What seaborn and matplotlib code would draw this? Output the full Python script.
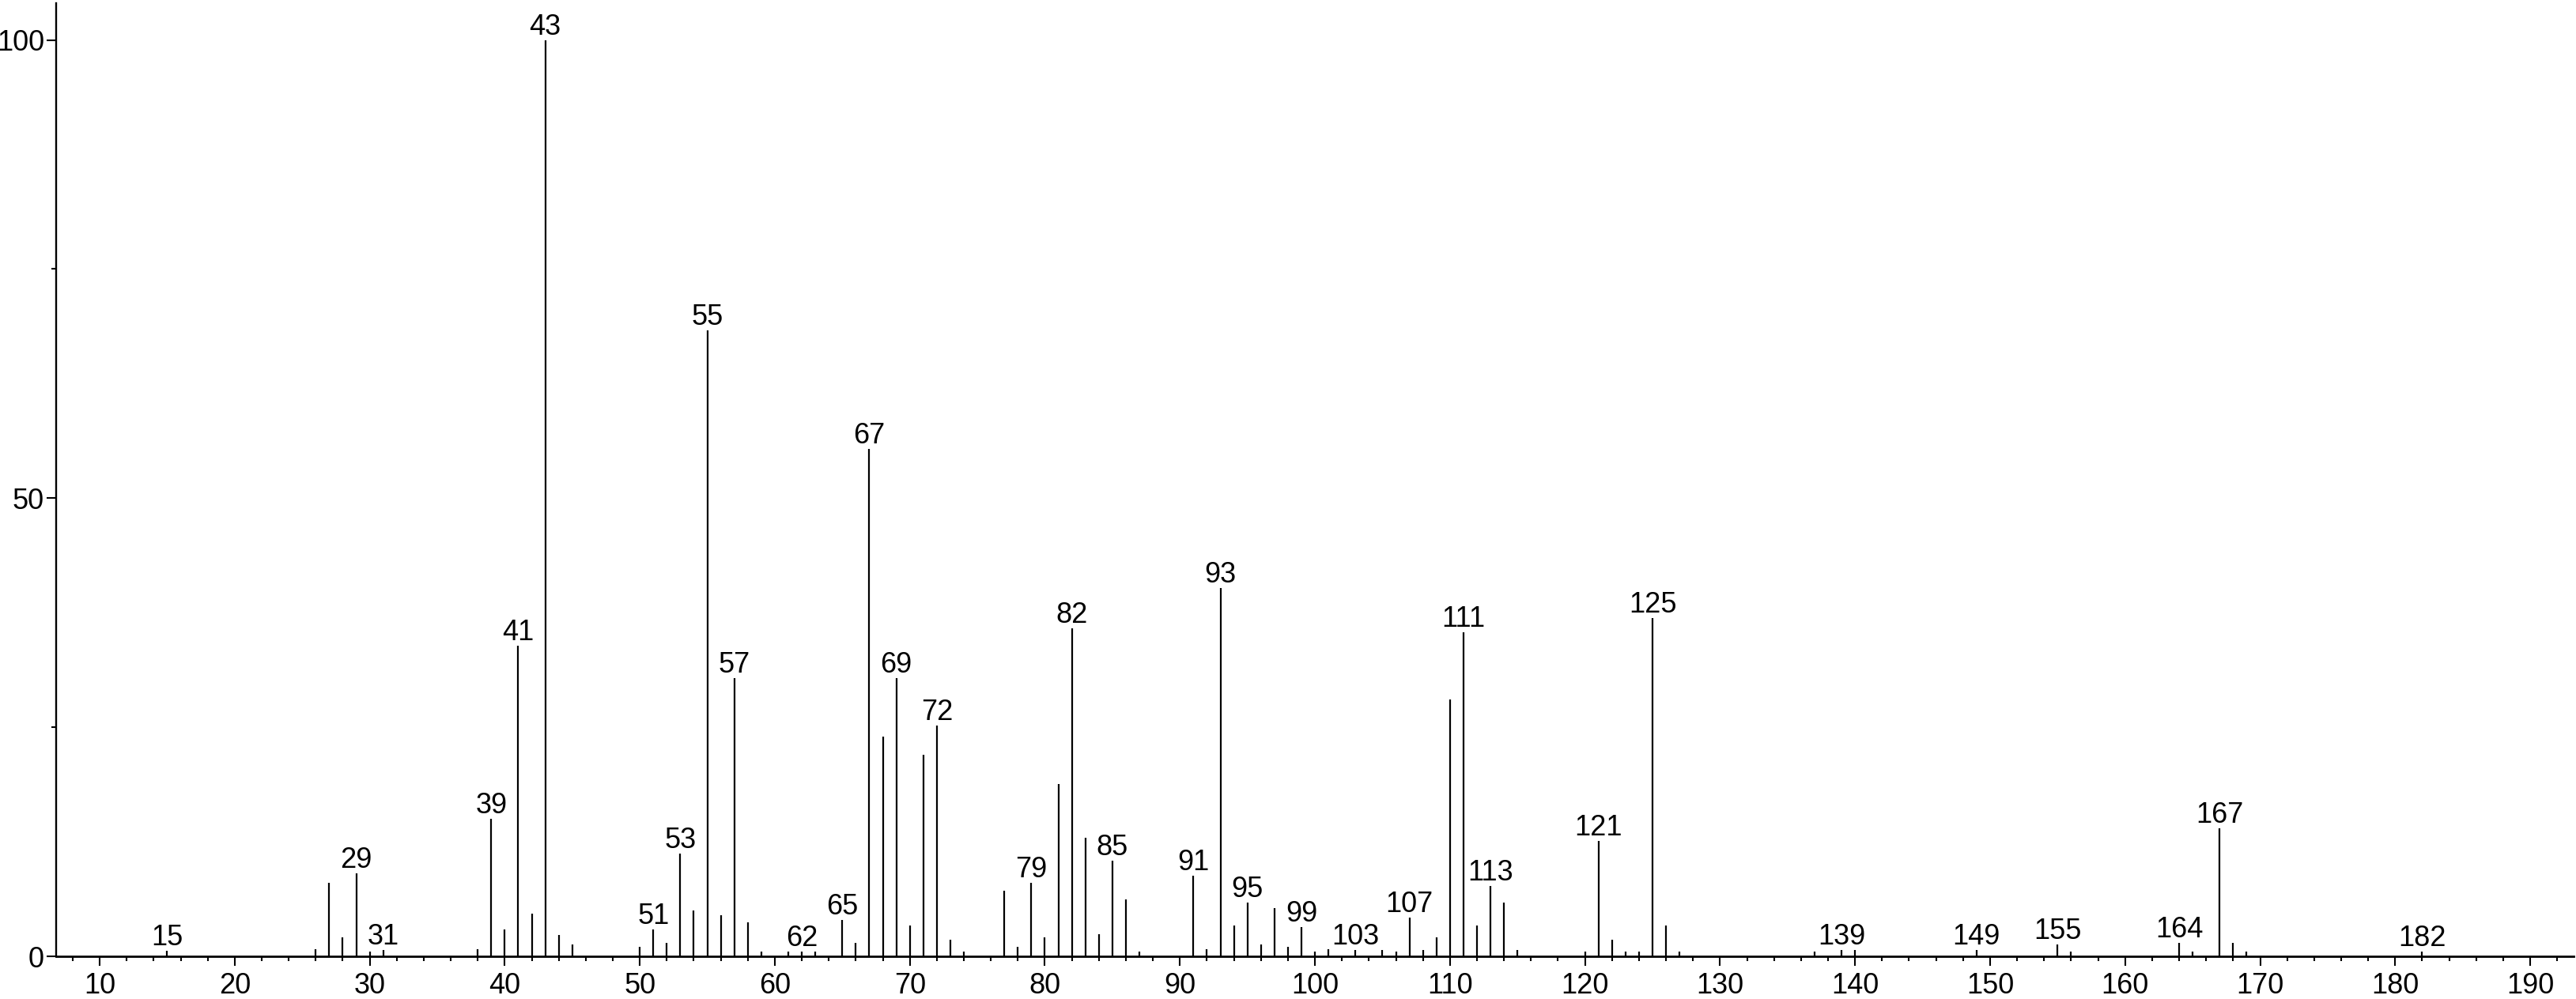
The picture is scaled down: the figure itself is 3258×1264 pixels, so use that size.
import matplotlib
matplotlib.use("Agg")
import matplotlib.pyplot as plt
from matplotlib.ticker import MultipleLocator
import seaborn as sns
import pandas as pd

# m/z values and relative intensities
mz = [15, 26, 27, 28, 29, 30, 31, 38, 39, 40, 41, 42, 43, 44, 45,
      50, 51, 52, 53, 54, 55, 56, 57, 58, 59, 61, 62, 63, 65, 66,
      67, 68, 69, 70, 71, 72, 73, 74, 77, 78, 79, 80, 81, 82, 83,
      84, 85, 86, 87, 91, 92, 93, 94, 95, 96, 97, 98, 99, 100, 101,
      103, 105, 106, 107, 108, 109, 110, 111, 112, 113, 114, 115, 120, 121, 122,
      123, 124, 125, 126, 127, 137, 139, 140, 149, 155, 156, 164, 165, 167, 168,
      169, 182]
intensity = [0.6, 0.8, 8.0, 2.1, 9.1, 0.5, 0.7, 0.8, 15.0, 2.9, 33.9, 4.7, 100, 2.3, 1.3,
             1.0, 2.9, 1.5, 11.2, 5.0, 68.3, 4.5, 30.4, 3.7, 0.5, 0.5, 0.5, 0.5, 4.0, 1.5,
             55.4, 24.0, 30.4, 3.4, 22.0, 25.2, 1.8, 0.5, 7.2, 1.0, 8.0, 2.1, 18.8, 35.8, 12.9,
             2.4, 10.4, 6.2, 0.5, 8.8, 0.8, 40.2, 3.4, 5.9, 1.3, 5.3, 1.0, 3.2, 0.5, 0.8,
             0.7, 0.7, 0.5, 4.2, 0.7, 2.1, 28.0, 35.4, 3.4, 7.7, 5.9, 0.7, 0.5, 12.6, 1.8,
             0.5, 0.5, 36.9, 3.4, 0.5, 0.5, 0.7, 0.7, 0.7, 1.3, 0.5, 1.5, 0.5, 14.0, 1.5,
             0.5, 0.5]
labeled = [15, 29, 31, 39, 41, 43, 51, 53, 55, 57, 62, 65, 67, 69, 72, 79, 82, 85,
           91, 93, 95, 99, 103, 107, 111, 113, 121, 125, 139, 149, 155, 164, 167, 182]

x_ticks = list(range(10, 191, 10))
y_ticks = [0, 50, 100]

df = pd.DataFrame({'mz': mz, 'intensity': intensity})

sns.set_style("ticks")
plt.rcParams['font.family'] = ['Liberation Sans Narrow', 'Liberation Sans', 'DejaVu Sans']

fig = plt.figure(figsize=(32.58, 12.64), dpi=100)
ax = fig.add_axes([0.0217, 0.0427, 0.9773, 0.954])

ax.vlines(df['mz'], 0, df['intensity'], color='black', linewidth=1.6)

for m, h in zip(df['mz'], df['intensity']):
    if m in labeled:
        ax.annotate(str(m), (m, h), xytext=(0, 5), textcoords='offset points',
                    ha='center', va='baseline', fontsize=26, color='black')

ax.set_xlim(6.76, 193.2)
ax.set_ylim(0, 104)
ax.set_xticks(x_ticks)
ax.xaxis.set_minor_locator(MultipleLocator(2))
ax.set_yticks(y_ticks)
ax.yaxis.set_minor_locator(MultipleLocator(25))

ax.tick_params(axis='both', which='major', direction='out', length=8.5, width=1.5,
               labelsize=26, color='black', labelcolor='black')
ax.tick_params(axis='x', which='major', pad=6)
ax.tick_params(axis='y', which='major', pad=2)
ax.tick_params(axis='both', which='minor', direction='out', length=4.3, width=1.5, color='black')

sns.despine(ax=ax)
ax.spines['bottom'].set_linewidth(2.0)
ax.spines['left'].set_linewidth(1.7)
ax.spines['bottom'].set_color('black')
ax.spines['left'].set_color('black')

fig.savefig("out.png", dpi=100, facecolor='white')
